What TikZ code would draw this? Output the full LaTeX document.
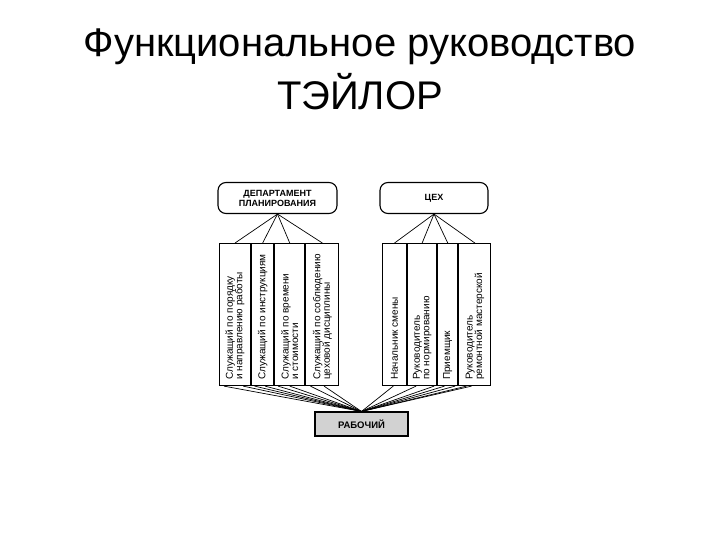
\documentclass[tikz,border=0pt]{standalone}
\usepackage{fontspec}
\setmainfont{Liberation Sans}
\usetikzlibrary{arrows,positioning,calc}

\begin{document}
\begin{tikzpicture}[x=1pt,y=-1pt,line width=0.7pt]
  \tikzstyle{head}=[draw,line width=1.1pt,rounded corners=8pt,minimum height=31pt,
    inner sep=0pt,align=center,font=\fontsize{9}{10}\selectfont\bfseries]
  \tikzstyle{post}=[draw,line width=1.1pt,minimum height=142pt,inner sep=0pt,anchor=north west]
  \tikzstyle{duty}=[rotate=90,anchor=west,align=left,inner sep=0pt,
    font=\fontsize{10}{9.5}\selectfont]
  \tikzstyle{worker}=[draw,line width=1.1pt,fill=gray!35,minimum width=93pt,
    minimum height=24pt,font=\fontsize{9.5}{10}\selectfont\bfseries]

  \useasboundingbox (0,0) rectangle (720,540);

  \node[anchor=base,font=\fontsize{40}{48}\selectfont] (title) at (360,57) {Функциональное руководство};
  \node[anchor=base,font=\fontsize{40}{48}\selectfont] (name) at (360,110) {ТЭЙЛОР};

  \node[head,minimum width=119pt] (plan) at (277.5,198) {ДЕПАРТАМЕНТ\\ПЛАНИРОВАНИЯ};
  \node[head,minimum width=108pt] (shop) at (434,198) {ЦЕХ};

  % служащие
  \node[post,minimum width=31pt] (l1) at (219,243) {};
  \node[post,minimum width=22pt] (l2) [right=0pt of l1] {};
  \node[post,minimum width=30pt] (l3) [right=0pt of l2] {};
  \node[post,minimum width=33pt] (l4) [right=0pt of l3] {};

  % цех
  \node[post,minimum width=24pt] (r1) at (382,243) {};
  \node[post,minimum width=29pt] (r2) [right=0pt of r1] {};
  \node[post,minimum width=20pt] (r3) [right=0pt of r2] {};
  \node[post,minimum width=32pt] (r4) [right=0pt of r3] {};

  \node[duty] (tl1) at ([yshift=6pt]l1.south) {Служащий по порядку\\и направлению работы};
  \node[duty] (tl2) at ([yshift=6pt]l2.south) {Служащий по инструкциям};
  \node[duty] (tl3) at ([yshift=6pt]l3.south) {Служащий по времени\\и стоимости};
  \node[duty] (tl4) at ([yshift=6pt]l4.south) {Служащий по соблюдению\\цеховой дисциплины};
  \node[duty] (tr1) at ([yshift=6pt]r1.south) {Начальник смены};
  \node[duty] (tr2) at ([yshift=6pt]r2.south) {Руководитель\\по нормированию};
  \node[duty] (tr3) at ([yshift=6pt]r3.south) {Приемщик};
  \node[duty] (tr4) at ([yshift=6pt]r4.south) {Руководитель\\ремонтной мастерской};

  \node[worker] (work) at (361.5,424) {РАБОЧИЙ};

  \path
  (plan.south) edge (l1.north)
               edge (l2.north)
               edge (l3.north)
               edge (l4.north)
  (shop.south) edge (r1.north)
               edge (r2.north)
               edge (r3.north)
               edge (r4.north);

  \path
  (work.north) edge ($(l1.south west)!0.15!(l1.south east)$)
               edge ($(l1.south west)!0.75!(l1.south east)$)
               edge ($(l2.south west)!0.15!(l2.south east)$)
               edge ($(l2.south west)!0.6!(l2.south east)$)
               edge ($(l3.south west)!0.12!(l3.south east)$)
               edge ($(l3.south west)!0.5!(l3.south east)$)
               edge ($(l4.south west)!0.15!(l4.south east)$)
               edge ($(l4.south west)!0.55!(l4.south east)$)
               edge ($(r1.south west)!0.45!(r1.south east)$)
               edge ($(r2.south west)!0.3!(r2.south east)$)
               edge ($(r2.south west)!0.9!(r2.south east)$)
               edge ($(r3.south west)!0.35!(r3.south east)$)
               edge ($(r3.south west)!0.85!(r3.south east)$)
               edge ($(r4.south west)!0.25!(r4.south east)$)
               edge ($(r4.south west)!0.4!(r4.south east)$);
\end{tikzpicture}
\end{document}
